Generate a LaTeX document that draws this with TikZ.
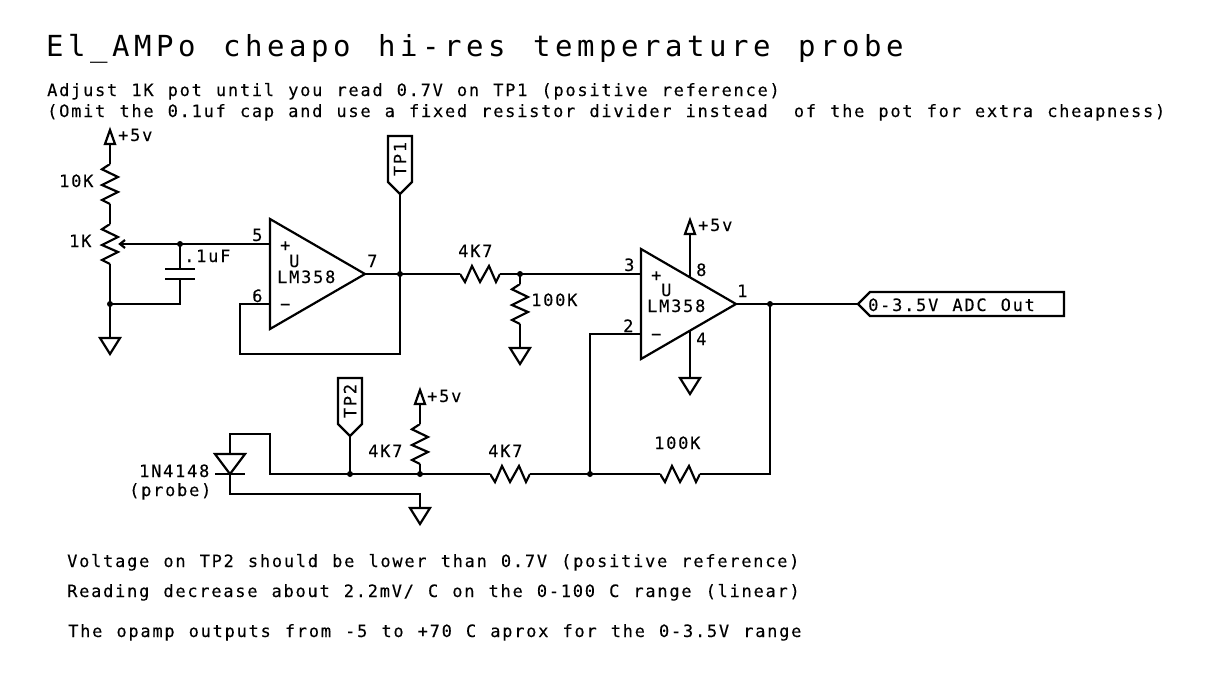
\documentclass[tikz,border=0pt]{standalone}
\usepackage{fontspec}
\setmainfont[LetterSpace=10.3,WordSpace=1.173,FakeBold=0.2]{DejaVu Sans Mono}
\newfontfamily\titlefont[LetterSpace=15.6,WordSpace=1.258]{DejaVu Sans Mono}
\usetikzlibrary{shapes.geometric,shapes.symbols}
\tikzset{
	lbl/.style={anchor=base west,inner sep=0pt,xshift=-1pt,font=\fontsize{17}{17}\selectfont},
	titlelbl/.style={anchor=base west,inner sep=0pt,font=\titlefont\fontsize{29}{29}\selectfont},
	wire/.style={draw,line width=2.2pt},
	resv/.style={minimum width=24pt,minimum height=40pt,inner sep=0pt,outer sep=0pt,
		path picture={\draw[line width=2.2pt,shift={(path picture bounding box.center)}]
			(0,-20)--(-8,-14.7)--(8,-7)--(-8,1)--(8,8)--(-8,16)--(0,20);}},
	resh/.style={minimum width=40pt,minimum height=24pt,inner sep=0pt,outer sep=0pt,
		path picture={\draw[line width=2.2pt,shift={(path picture bounding box.center)}]
			(-20,0)--(-15,8)--(-8,-8)--(0,8)--(9,-8)--(16,8)--(20,0);}},
	tri/.style={isosceles triangle,isosceles triangle stretches,draw,line width=2.2pt,inner sep=0pt,outer sep=0pt},
	gnd/.style={tri,shape border rotate=-90,minimum width=20pt,minimum height=16pt,anchor=lower side},
	vcc/.style={tri,shape border rotate=90,minimum width=10pt,minimum height=14pt,anchor=lower side},
	opamp/.style={tri,minimum width=110pt,minimum height=95pt,anchor=apex},
	dot/.style={circle,fill=black,inner sep=0pt,minimum size=6pt},
	tpflag/.style={signal,signal to=west,draw,line width=2.2pt,rotate=90,minimum width=58pt,minimum height=24pt,
		signal pointer angle=90,inner sep=0pt,outer sep=0pt,anchor=west,font=\fontsize{17}{17}\selectfont},
}
\begin{document}
\frenchspacing
\begin{tikzpicture}[x=1pt,y=-1pt]
	\useasboundingbox (0,0) rectangle (1232,696);
	\node[titlelbl] (title) at (46,56) {El\_AMPo cheapo hi-res temperature probe};
	\node[lbl] (note1) at (48,96) {Adjust 1K pot until you read 0.7V on TP1 (positive reference)};
	\node[lbl] (note2) at (48,117) {(Omit the 0.1uf cap and use a fixed resistor divider instead\ \kern-2pt\ of the pot for extra cheapness)};
	\node[lbl] (note3) at (68,567) {Voltage on TP2 should be lower than 0.7V (positive reference)};
	\node[lbl] (note4) at (68,597) {Reading decrease about 2.2mV/ C on the 0-100 C range (linear)};
	\node[lbl] (note5) at (69,637) {The opamp outputs from -5 to +70 C aprox for the 0-3.5V range};

	\node[opamp] (U1) at (365,274) {};
	\node[opamp] (U2) at (736,304) {};
	\node[resv] (R10K) at (110,184) {};
	\node[resv] (R1K) at (110,244) {};
	\node[resh] (R47A) at (480,274) {};
	\node[resv] (R100A) at (520,304) {};
	\node[resv] (R47B) at (420,444) {};
	\node[resh] (R47C) at (510,474) {};
	\node[resh] (R100B) at (680,474) {};
	\node[vcc] (V1) at (110,144) {};
	\node[vcc] (V2) at (690,234) {};
	\node[vcc] (V3) at (420,404) {};
	\node[gnd] (G1) at (110,338) {};
	\node[gnd] (G2) at (520,348) {};
	\node[gnd] (G3) at (690,378) {};
	\node[gnd] (G4) at (420,508) {};
	\node[tpflag] (TP1) at (400,194) {TP1};
	\node[tpflag] (TP2) at (350,436) {TP2};
	\node[signal,signal to=west,draw,line width=2.2pt,minimum width=206pt,minimum height=24pt,signal pointer angle=90,
		inner sep=0pt,outer sep=0pt,anchor=west] (ADC) at (858,304) {};
	\node[tri,shape border rotate=-90,minimum width=30pt,minimum height=20pt,anchor=apex] (D1) at (230,474) {};

	\node[dot] (J1) at (180,244) {};
	\node[dot] (J2) at (110,304) {};
	\node[dot] (J3) at (400,274) {};
	\node[dot] (J4) at (520,274) {};
	\node[dot] (J5) at (770,304) {};
	\node[dot] (J6) at (350,474) {};
	\node[dot] (J7) at (420,474) {};
	\node[dot] (J8) at (590,474) {};

	\coordinate (P5) at (270,244);
	\coordinate (P6) at (270,304);
	\coordinate (P3) at (640,274);
	\coordinate (P2) at (640,334);
	\coordinate (P8) at (690,278);
	\coordinate (P4) at (690,330);
	\coordinate (W1) at (120,244);
	\coordinate (C1) at (180,269);
	\coordinate (C2) at (180,279);
	\coordinate (C1a) at (165,269);
	\coordinate (C1b) at (195,269);
	\coordinate (C2a) at (165,279);
	\coordinate (C2b) at (195,279);
	\coordinate (D1a) at (215,474);
	\coordinate (D1b) at (245,474);

	\draw[wire] (V1.lower side) -- (R10K.north);
	\draw[wire] (R10K.south) -- (R1K.north);
	\draw[wire] (R1K.south) -- (J2.center) -- (G1.lower side);
	\draw[wire] (P5) -- (W1);
	\draw[wire] (125,240) -- (W1) -- (125,248);
	\draw[wire] (J1.center) -- (C1);
	\draw[wire] (C1a) -- (C1b);
	\draw[wire] (C2a) -- (C2b);
	\draw[wire] (C2) -- (J1.center |- J2.center) -- (J2.center);
	\draw[wire] (P6) -- (240,304) -- (240,354) -- (400,354) -- (J3.center);
	\draw[wire] (U1.apex) -- (R47A.west);
	\draw[wire] (TP1.west) -- (J3.center);
	\draw[wire] (R47A.east) -- (P3);
	\draw[wire] (J4.center) -- (R100A.north);
	\draw[wire] (R100A.south) -- (G2.lower side);
	\draw[wire] (V2.lower side) -- (P8);
	\draw[wire] (P4) -- (G3.lower side);
	\draw[wire] (U2.apex) -- (ADC.west);
	\draw[wire] (J5.center) -- (770,474) -- (R100B.east);
	\draw[wire] (R100B.west) -- (R47C.east);
	\draw[wire] (P2) -- (590,334) -- (J8.center);
	\draw[wire] (R47C.west) -- (270,474) -- (270,434) -- (230,434) -- (D1.lower side);
	\draw[wire] (D1a) -- (D1b);
	\draw[wire] (D1.apex) -- (230,494) -- (420,494) -- (G4.lower side);
	\draw[wire] (TP2.west) -- (J6.center);
	\draw[wire] (V3.lower side) -- (R47B.north);
	\draw[wire] (R47B.south) -- (J7.center);

	\node[lbl] (L5a) at (119,141) {+5v};
	\node[lbl] (L10K) at (60,187) {10K};
	\node[lbl] (L1K) at (70,247) {1K};
	\node[lbl] (Lcap) at (185,262) {.1uF};
	\node[lbl] (Lp5) at (253,241) {5};
	\node[lbl] (Lp6) at (253,302) {6};
	\node[lbl] (Lp7) at (368,267) {7};
	\node[lbl] (Lu1p) at (281,251) {+};
	\node[lbl] (Lu1m) at (281,310) {−};
	\node[lbl] (Lu1u) at (290,267) {U};
	\node[lbl] (Lu1) at (278,283) {LM358};
	\node[lbl] (Lp3) at (625,271) {3};
	\node[lbl] (Lp2) at (624,332) {2};
	\node[lbl] (Lp8) at (697,276) {8};
	\node[lbl] (Lp4) at (697,345) {4};
	\node[lbl] (Lp1) at (738,297) {1};
	\node[lbl] (Lu2p) at (652,281) {+};
	\node[lbl] (Lu2m) at (652,340) {−};
	\node[lbl] (Lu2u) at (662,296) {U};
	\node[lbl] (Lu2) at (648,312) {LM358};
	\node[lbl] (L5b) at (699,231) {+5v};
	\node[lbl] (L5c) at (428,402) {+5v};
	\node[lbl] (LADC) at (869,311) {0-3.5V ADC Out};
	\node[lbl] (LR47A) at (459,257) {4K7};
	\node[lbl] (LR100A) at (532,306) {100K};
	\node[lbl] (LR47B) at (369,457) {4K7};
	\node[lbl] (LR47C) at (489,457) {4K7};
	\node[lbl] (LR100B) at (655,449) {100K};
	\node[lbl] (LD1) at (140,477) {1N4148};
	\node[lbl] (LD2) at (130,496) {(probe)};
\end{tikzpicture}
\end{document}
